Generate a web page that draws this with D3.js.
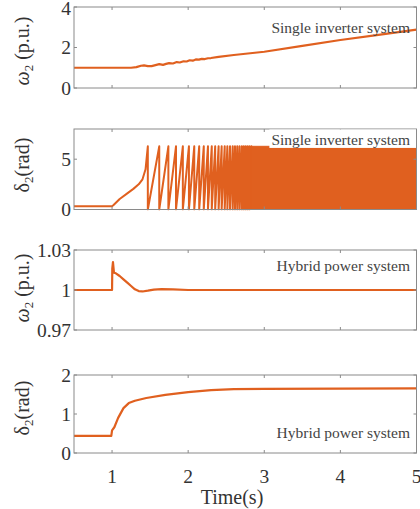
<!DOCTYPE html>
<html><head><meta charset="utf-8">
<script src="https://cdn.jsdelivr.net/npm/d3@7"></script>
<style>body{margin:0;background:#fff}svg{display:block}</style>
</head><body>
<script>
// ---------- data ----------
const timeDomain = [0.5, 5];
const xTicks = [1, 2, 3, 4, 5];

// Panel 1: omega2, single inverter system
const omegaSingleT = [0.5, 1.0, 1.25, 1.32, 1.38, 1.42, 1.47, 1.52, 1.57, 1.62, 1.67, 1.71, 1.75, 1.80, 1.85, 1.89, 1.94, 1.98, 2.02, 2.06, 2.10, 2.14, 2.18, 2.22, 2.26, 2.30, 2.4, 2.6, 3.0, 3.5, 4.0, 4.5, 5.0];
const omegaSingleV = [1.0, 1.0, 1.0, 1.03, 1.10, 1.12, 1.08, 1.08, 1.13, 1.18, 1.14, 1.19, 1.23, 1.21, 1.28, 1.26, 1.32, 1.31, 1.37, 1.35, 1.41, 1.40, 1.44, 1.43, 1.47, 1.48, 1.54, 1.63, 1.79, 2.08, 2.37, 2.62, 2.88];

// Panel 2: delta2, single inverter system
const deltaSingleT = [0.5, 1.0, 1.02, 1.1, 1.2, 1.28, 1.35, 1.40, 1.44, 1.47];
const deltaSingleV = [0.33, 0.33, 0.45, 1.05, 1.6, 2.05, 2.5, 3.0, 4.0, 6.28];
const wrapTimes = [1.47, 1.62, 1.74, 1.84, 1.93, 2.01, 2.08, 2.145, 2.205, 2.26, 2.31, 2.355, 2.40, 2.44, 2.48, 2.515, 2.55, 2.585, 2.615, 2.645, 2.675, 2.705, 2.73, 2.755, 2.78, 2.805, 2.83];
const wrapTop = 6.28;
const denseEnd = 5;

// Panel 3: omega2, hybrid power system
const omegaHybridT = [0.5, 1.0, 1.003, 1.012, 1.025, 1.05, 1.1, 1.15, 1.2, 1.25, 1.3, 1.35, 1.4, 1.47, 1.55, 1.65, 1.8, 2.0, 5.0];
const omegaHybridV = [1.0, 1.0, 1.016, 1.021, 1.013, 1.0125, 1.0105, 1.008, 1.0055, 1.003, 1.0005, 0.9992, 0.9989, 0.9995, 1.0003, 1.0006, 1.0004, 1.0, 1.0];

// Panel 4: delta2, hybrid power system
const deltaHybridT = [0.5, 0.99, 1.0, 1.03, 1.08, 1.15, 1.22, 1.3, 1.45, 1.7, 2.0, 2.3, 2.6, 3.0, 4.0, 5.0];
const deltaHybridV = [0.44, 0.44, 0.58, 0.66, 0.9, 1.15, 1.28, 1.34, 1.41, 1.49, 1.56, 1.61, 1.64, 1.645, 1.65, 1.655];

const panels = [
  {top: 7,   bottom: 88,  domain: [0, 4],       ticks: [0, 2, 4],        fmt: d => d, label: "ω", sub: "2", unit: " (p.u.)", labelY: 51, note: "Single inverter system", noteY: 28, noteBg: false},
  {top: 129, bottom: 209.5, domain: [0, 8],     ticks: [0, 5],           fmt: d => d, label: "δ", sub: "2", unit: "(rad)",  labelY: 165, note: "Single inverter system", noteY: 140, noteBg: true},
  {top: 250, bottom: 330, domain: [0.97, 1.03], ticks: [0.97, 1, 1.03],  fmt: d => d === 1 ? "1" : d.toFixed(2), label: "ω", sub: "2", unit: " (p.u.)", labelY: 288, note: "Hybrid power system", noteY: 266, noteBg: false},
  {top: 375, bottom: 453, domain: [0, 2],       ticks: [0, 1, 2],        fmt: d => d, label: "δ", sub: "2", unit: "(rad)",  labelY: 408, note: "Hybrid power system", noteY: 433, noteBg: false}
];

// ---------- drawing ----------
const W = 420, H = 509;
const left = 74, right = 416.5;
const lineColor = "#E0601F";
const axisColor = "#8a8a8a";
const textColor = "#333";
const font = "'Liberation Serif', 'Times New Roman', serif";

const svg = d3.select("body").append("svg").attr("width", W).attr("height", H);
const x = d3.scaleLinear().domain(timeDomain).range([left, right]);

panels.forEach((p, i) => {
  p.y = d3.scaleLinear().domain(p.domain).range([p.bottom, p.top]);
  const g = svg.append("g");
  const clipId = "clip" + i;
  svg.append("clipPath").attr("id", clipId).append("rect")
    .attr("x", left).attr("y", p.top - 1).attr("width", right - left).attr("height", p.bottom - p.top + 2);
  p.g = g; p.clip = "url(#" + clipId + ")";
});

const line = (y) => d3.line().x(d => x(d[0])).y(d => y(d[1]));
const zip = (a, b) => a.map((t, k) => [t, b[k]]);

// Panel 1
{
  const p = panels[0];
  p.g.append("path").attr("clip-path", p.clip).attr("d", line(p.y)(zip(omegaSingleT, omegaSingleV)))
    .attr("fill", "none").attr("stroke", lineColor).attr("stroke-width", 2.2).attr("stroke-linejoin", "round");
}
// Panel 2
{
  const p = panels[1];
  const pts = zip(deltaSingleT, deltaSingleV);
  for (let k = 0; k < wrapTimes.length; k++) {
    pts.push([wrapTimes[k], wrapTop]);
    pts.push([wrapTimes[k], 0]);
    if (k + 1 < wrapTimes.length) pts.push([wrapTimes[k + 1], wrapTop]);
  }
  p.g.append("path").attr("clip-path", p.clip).attr("d", line(p.y)(pts))
    .attr("fill", "none").attr("stroke", lineColor).attr("stroke-width", 2).attr("stroke-linejoin", "round");
  // densely wrapping region, unresolved: drawn as a band between 0 and 2π
  const lastWrap = wrapTimes[wrapTimes.length - 1];
  const area = d3.area().x(d => x(d)).y0(p.y(0)).y1(p.y(wrapTop));
  p.g.append("path").attr("clip-path", p.clip).attr("d", area([lastWrap, denseEnd]))
    .attr("fill", lineColor).attr("stroke", lineColor).attr("stroke-width", 1);
}
// Panel 3
{
  const p = panels[2];
  p.g.append("path").attr("clip-path", p.clip).attr("d", line(p.y)(zip(omegaHybridT, omegaHybridV)))
    .attr("fill", "none").attr("stroke", lineColor).attr("stroke-width", 2.2).attr("stroke-linejoin", "round");
}
// Panel 4
{
  const p = panels[3];
  p.g.append("path").attr("clip-path", p.clip).attr("d", line(p.y)(zip(deltaHybridT, deltaHybridV)))
    .attr("fill", "none").attr("stroke", lineColor).attr("stroke-width", 2.2).attr("stroke-linejoin", "round");
}

// Axes, ticks, labels
panels.forEach((p, i) => {
  const g = svg.append("g");
  g.append("rect").attr("x", left).attr("y", p.top).attr("width", right - left).attr("height", p.bottom - p.top)
    .attr("fill", "none").attr("stroke", axisColor).attr("stroke-width", 1);
  xTicks.forEach(t => {
    g.append("line").attr("x1", x(t)).attr("x2", x(t)).attr("y1", p.top).attr("y2", p.top + 3).attr("stroke", axisColor);
    g.append("line").attr("x1", x(t)).attr("x2", x(t)).attr("y1", p.bottom).attr("y2", p.bottom - 3).attr("stroke", axisColor);
  });
  p.ticks.forEach(v => {
    g.append("line").attr("x1", left).attr("x2", left + 3).attr("y1", p.y(v)).attr("y2", p.y(v)).attr("stroke", axisColor);
    g.append("line").attr("x1", right).attr("x2", right - 3).attr("y1", p.y(v)).attr("y2", p.y(v)).attr("stroke", axisColor);
    g.append("text").attr("x", left - 3).attr("y", p.y(v)).attr("dy", v === p.domain[1] && i === 0 ? "0.42em" : "0.35em")
      .attr("text-anchor", "end").attr("font-family", font).attr("font-size", 19.5).attr("fill", textColor)
      .text(p.fmt(v));
  });
  const t = g.append("text").attr("transform", `translate(29,${p.labelY}) rotate(-90)`)
    .attr("text-anchor", "middle").attr("font-family", font).attr("font-size", 20).attr("fill", textColor);
  t.append("tspan").attr("font-style", p.label === "ω" ? "italic" : "normal").text(p.label);
  t.append("tspan").attr("font-size", 13).attr("dy", 4).text(p.sub);
  t.append("tspan").attr("dy", -4).text(p.unit);
  const note = g.append("text").attr("x", 410).attr("y", p.noteY).attr("dy", "0.35em").attr("text-anchor", "end")
    .attr("font-family", font).attr("font-size", 15.5).attr("fill", "#444").text(p.note);
  if (p.noteBg) {
    const bb = note.node().getBBox();
    g.insert("rect", "text:last-of-type").attr("x", bb.x - 2).attr("y", p.top + 0.5).attr("width", right - 0.5 - (bb.x - 2)).attr("height", bb.y + bb.height - p.top - 1)
      .attr("fill", "#fff");
    note.raise();
  }
});

xTicks.forEach(t => {
  svg.append("text").attr("x", x(t)).attr("y", 476).attr("dy", "0.35em").attr("text-anchor", "middle")
    .attr("font-family", font).attr("font-size", 19.5).attr("fill", textColor).text(t);
});
svg.append("text").attr("x", 232).attr("y", 497).attr("dy", "0.35em").attr("text-anchor", "middle")
  .attr("font-family", font).attr("font-size", 20).attr("fill", textColor).text("Time(s)");
</script>
</body></html>
